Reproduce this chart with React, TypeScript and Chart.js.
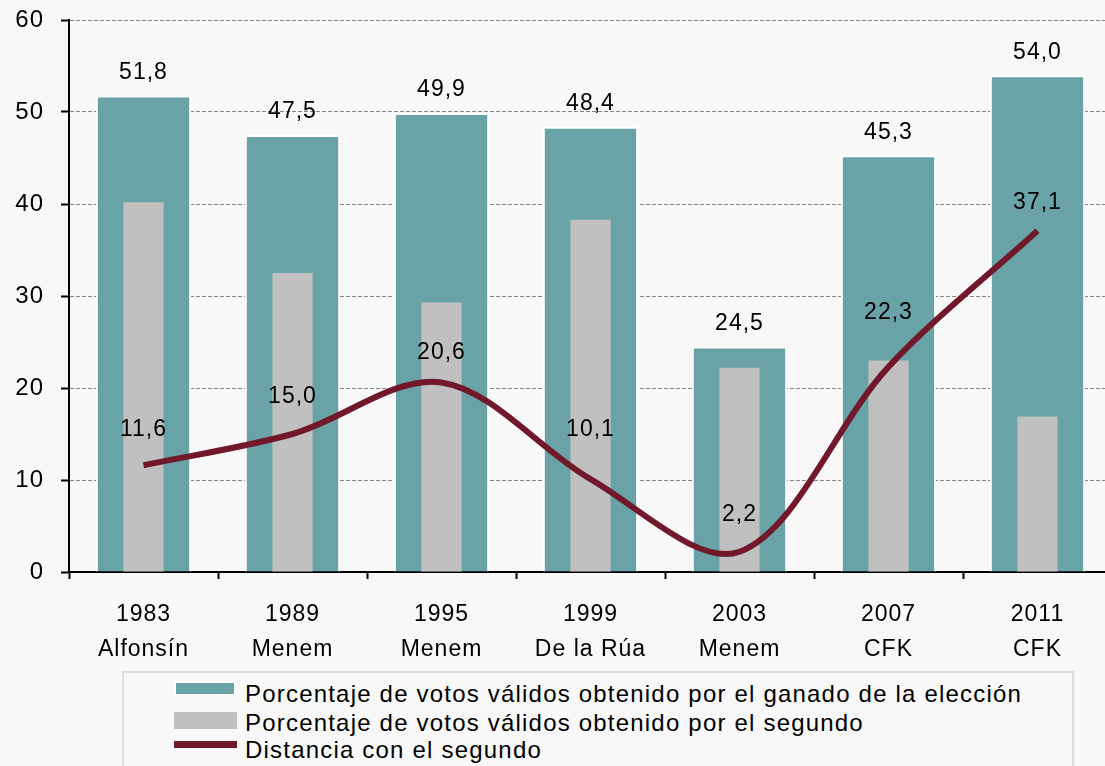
import React, { useEffect, useRef } from "react";
import { Chart, registerables } from "chart.js";

Chart.register(...registerables);

const years = ["1983", "1989", "1995", "1999", "2003", "2007", "2011"];
const winners = ["Alfonsín", "Menem", "Menem", "De la Rúa", "Menem", "CFK", "CFK"];
const winnerShare = [51.8, 47.5, 49.9, 48.4, 24.5, 45.3, 54.0];
const secondShare = [40.2, 32.5, 29.3, 38.3, 22.2, 23.0, 16.9];
const gapToSecond = [11.6, 15.0, 20.6, 10.1, 2.2, 22.3, 37.1];
const yTicks = [0, 10, 20, 30, 40, 50, 60];
const seriesNames = [
  "Porcentaje de votos válidos obtenido por el ganado de la elección",
  "Porcentaje de votos válidos obtenido por el segundo",
  "Distancia con el segundo",
];

// label lift (px) above the line points, as placed in the original
const gapLabelLift = [36, 37, 30, 49, 37, 54, 28];

const TEAL = "#6aa3a7";
const GRAY = "#c0c0c0";
const MAROON = "#72182b";
const FONT = "'Liberation Sans', Arial, sans-serif";
const SPACING = "1px";

const fmt = (v: number) => v.toFixed(1).replace(".", ",");

const spacingPlugin = {
  id: "spacing",
  beforeLayout(chart: any) {
    chart.ctx.letterSpacing = SPACING;
  },
  beforeDraw(chart: any) {
    chart.ctx.letterSpacing = SPACING;
  },
};

const valueLabels = {
  id: "valueLabels",
  afterDatasetsDraw(chart: any) {
    const ctx = chart.ctx;
    ctx.save();
    ctx.letterSpacing = SPACING;
    ctx.font = `23px ${FONT}`;
    ctx.fillStyle = "#000";
    ctx.textAlign = "center";
    ctx.textBaseline = "middle";
    const barMeta = chart.getDatasetMeta(0);
    barMeta.data.forEach((el: any, i: number) => {
      ctx.fillText(fmt(winnerShare[i]), el.x, el.y - 23);
    });
    const lineMeta = chart.getDatasetMeta(2);
    lineMeta.data.forEach((el: any, i: number) => {
      ctx.fillText(fmt(gapToSecond[i]), el.x, el.y - gapLabelLift[i]);
    });
    ctx.restore();
  },
};

export default function App() {
  const ref = useRef<HTMLCanvasElement>(null);

  useEffect(() => {
    if (!ref.current) return;
    const chart = new Chart(ref.current, {
      type: "bar",
      data: {
        labels: years.map((y, i) => [y, winners[i]]),
        datasets: [
          {
            type: "bar",
            label: seriesNames[0],
            data: winnerShare,
            backgroundColor: TEAL,
            borderColor: "#ffffff",
            borderWidth: 2,
            barPercentage: 0.64,
            categoryPercentage: 1,
            grouped: false,
            order: 3,
          } as any,
          {
            type: "bar",
            label: seriesNames[1],
            data: secondShare,
            backgroundColor: GRAY,
            borderWidth: 0,
            barPercentage: 0.27,
            categoryPercentage: 1,
            grouped: false,
            order: 2,
          } as any,
          {
            type: "line",
            label: seriesNames[2],
            data: gapToSecond,
            borderColor: MAROON,
            borderWidth: 6,
            pointRadius: 0,
            tension: 0.33,
            fill: false,
            borderCapStyle: "butt",
            borderJoinStyle: "round",
            order: 1,
          } as any,
        ],
      },
      options: {
        responsive: false,
        animation: false,
        layout: { padding: { top: 20, left: 0, right: 0, bottom: 0 } },
        plugins: {
          legend: { display: false },
          tooltip: { enabled: false },
        },
        scales: {
          x: {
            offset: true,
            grid: {
              offset: true,
              drawOnChartArea: false,
              drawTicks: true,
              tickLength: 7,
              tickColor: "#000",
              tickWidth: 2,
            },
            border: { display: true, color: "#000", width: 2 },
            ticks: {
              color: "#000",
              font: { family: FONT, size: 23, lineHeight: 1.52 },
              padding: 18,
              maxRotation: 0,
              autoSkip: false,
            },
            afterFit: (s: any) => {
              s.height = 98;
            },
          },
          y: {
            min: yTicks[0],
            max: yTicks[yTicks.length - 1],
            grid: {
              color: "#858585",
              lineWidth: 1,
              tickColor: "#000",
              tickWidth: 2,
              tickLength: 8,
              tickBorderDash: [],
            },
            border: { display: true, color: "#000", width: 2, dash: [4, 2] } as any,
            ticks: {
              stepSize: yTicks[1] - yTicks[0],
              color: "#000",
              font: { family: FONT, size: 24, lineHeight: 0.2 },
              padding: 17,
            },
            afterFit: (s: any) => {
              s.width = 69;
            },
          },
        },
      } as any,
      plugins: [spacingPlugin, valueLabels],
    });
    return () => chart.destroy();
  }, []);

  const textStyle: React.CSSProperties = {
    position: "absolute",
    left: 245,
    font: `24px ${FONT}`,
    lineHeight: "28px",
    letterSpacing: "1.2px",
    color: "#000",
    whiteSpace: "nowrap",
  };

  return (
    <div
      style={{
        position: "fixed",
        left: 0,
        top: 0,
        width: 1105,
        height: 766,
        overflow: "hidden",
        background: "#f8f8f8",
      }}
    >
      <canvas ref={ref} width={1112} height={670} style={{ display: "block", position: "absolute", left: 0, top: 0 }} />
      <div
        style={{
          position: "absolute",
          left: 122,
          top: 671,
          width: 948,
          height: 140,
          border: "2px solid #dcdcdc",
        }}
      />
      <div style={{ position: "absolute", left: 175, top: 682, width: 60, height: 13, background: TEAL, border: "1px solid #fff", boxSizing: "border-box" }} />
      <div style={{ position: "absolute", left: 174, top: 712, width: 63, height: 17, background: GRAY }} />
      <div style={{ position: "absolute", left: 174, top: 741, width: 63, height: 7, background: MAROON }} />
      <div style={{ ...textStyle, top: 680 }}>{seriesNames[0]}</div>
      <div style={{ ...textStyle, top: 709 }}>{seriesNames[1]}</div>
      <div style={{ ...textStyle, top: 736 }}>{seriesNames[2]}</div>
    </div>
  );
}
